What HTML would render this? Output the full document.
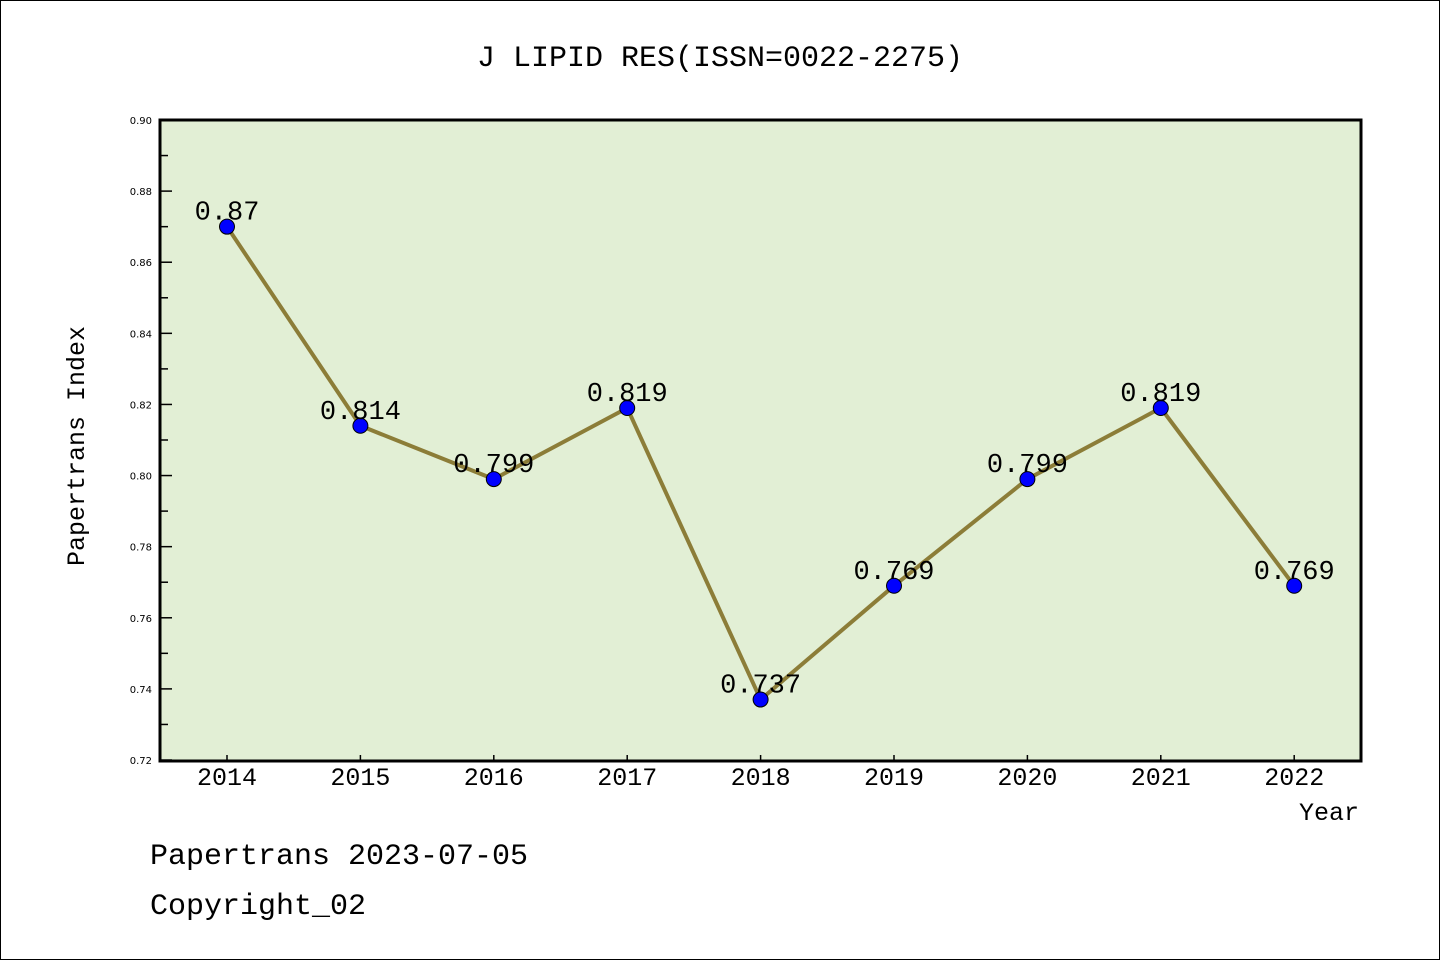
<!DOCTYPE html>
<html><head><meta charset="utf-8"><style>
html,body{margin:0;padding:0;background:#fff}
svg text{font-family:"Liberation Mono","DejaVu Sans Mono",monospace}
svg text.tk{font-family:"DejaVu Sans","Liberation Sans",sans-serif}
</style></head><body>
<svg width="1440" height="960" xmlns="http://www.w3.org/2000/svg">
<rect x="0.5" y="0.5" width="1439" height="959" fill="#fff" stroke="#000"/>
<text x="720" y="66" font-size="30" text-anchor="middle">J LIPID RES(ISSN=0022-2275)</text>
<rect x="160" y="120" width="1201" height="641" fill="#e2efd5"/>
<g id="axes"></g>
<g id="marks"></g>
<rect x="160" y="120" width="1201" height="641" fill="none" stroke="#000" stroke-width="3"/>
<text transform="translate(84,446) rotate(-90)" font-size="25" text-anchor="middle">Papertrans Index</text>
<text x="1359" y="820" font-size="25" text-anchor="end">Year</text>
<text x="150" y="864" font-size="30">Papertrans 2023-07-05</text>
<text x="150" y="914" font-size="30">Copyright_02</text>
</svg>
<script>
const years = ["2014","2015","2016","2017","2018","2019","2020","2021","2022"];
const values = [0.87,0.814,0.799,0.819,0.737,0.769,0.799,0.819,0.769];
const labels = ["0.87","0.814","0.799","0.819","0.737","0.769","0.799","0.819","0.769"];
const yTicks = ["0.72","0.74","0.76","0.78","0.80","0.82","0.84","0.86","0.88","0.90"];
const NS="http://www.w3.org/2000/svg";
const yMin=0.72,yMax=0.90;
function ys(v){return 760-(v-yMin)/(yMax-yMin)*640;}
function xs(i){return 227+i*133.4;}
function mk(t,a,p){const e=document.createElementNS(NS,t);for(const k in a)e.setAttribute(k,a[k]);p.appendChild(e);return e;}
const ax=document.getElementById('axes'),mg=document.getElementById('marks');
yTicks.forEach(t=>{const y=ys(parseFloat(t));
 const l=mk('line',{x1:160,x2:172,y1:y,y2:y,stroke:'#000','stroke-width':1.5},ax);
 
 
 const tx=mk('text',{x:152,y:y+4,'font-size':10,'text-anchor':'end','class':'tk'},ax);tx.textContent=t;
 
 
 if(parseFloat(t)<yMax-0.001){const y2=ys(parseFloat(t)+0.01);
  const m=mk('line',{x1:160,x2:168,y1:y2,y2:y2,stroke:'#000','stroke-width':1.5},ax);
  
  }
});
years.forEach((yr,i)=>{const x=xs(i);
 const l=mk('line',{x1:x,x2:x,y1:755,y2:761,stroke:'#000','stroke-width':1.5},ax);
 
 
 const tx=mk('text',{x:x,y:785,'font-size':25,'text-anchor':'middle'},ax);tx.textContent=yr;
 
 
});
const pts=values.map((v,i)=>xs(i)+','+ys(v)).join(' ');
const pl=mk('polyline',{points:pts,fill:'none',stroke:'#8c7d38','stroke-width':4},mg);


values.forEach((v,i)=>{
 const c=mk('circle',{cx:xs(i),cy:ys(v),r:7.5,fill:'#0000ff',stroke:'#000','stroke-width':1},mg);
 
 
 const t=mk('text',{x:xs(i),y:ys(v)-7,'font-size':27,'text-anchor':'middle'},mg);t.textContent=labels[i];
 
 
});
</script>
</body></html>
